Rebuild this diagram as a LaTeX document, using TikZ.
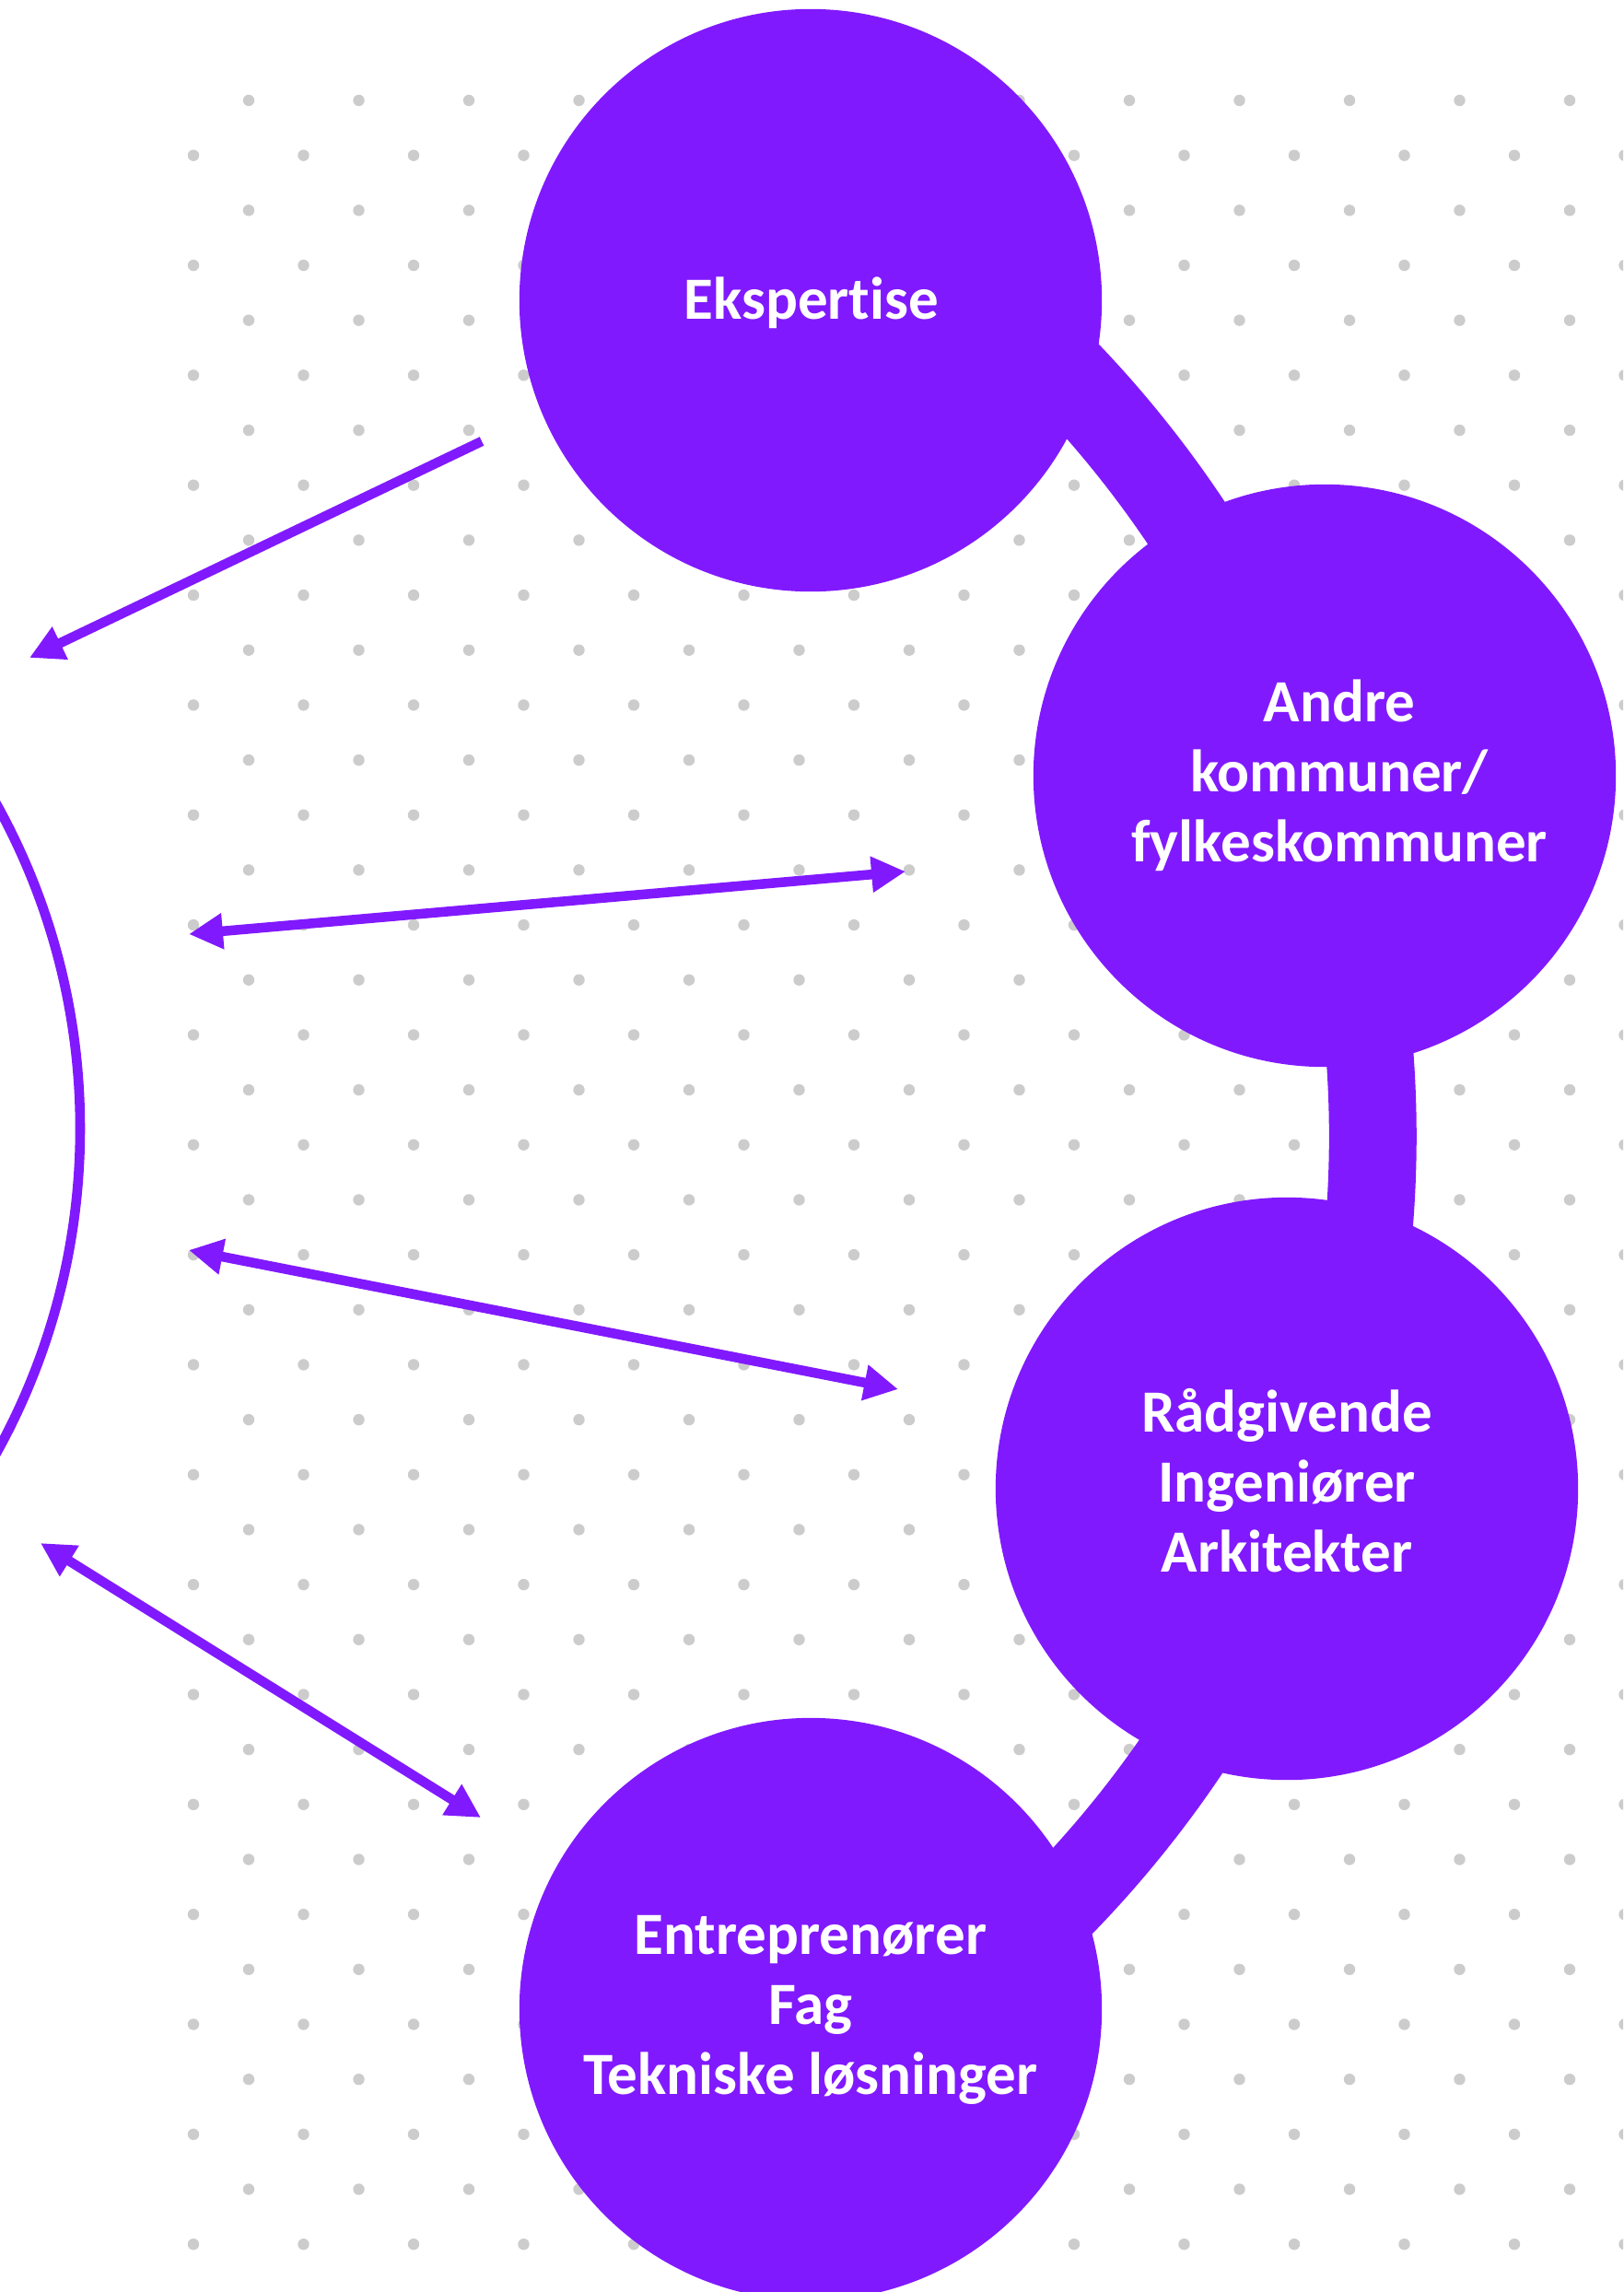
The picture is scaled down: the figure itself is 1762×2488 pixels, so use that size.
\documentclass[tikz,border=0pt]{standalone}
\usepackage{fontspec}
\setmainfont{Carlito}[Ligatures=NoCommon]
\usetikzlibrary{arrows.meta}
\definecolor{purp}{HTML}{8119FF}
\definecolor{dotc}{HTML}{CCCCCC}
\tikzset{
  bubble/.style={circle, fill=purp, minimum size=6.32cm, inner sep=0pt},
  bubbletext/.style={text=white, align=center, inner sep=0pt,
    font=\fontsize{18.5}{21.6}\selectfont\bfseries},
  conn/.style={draw=purp, line width=3pt},
  onehead/.style={conn, -{Triangle[length=10.5pt,width=10.5pt]}},
  twohead/.style={conn, {Triangle[length=10.5pt,width=10.5pt]}-{Triangle[length=10.5pt,width=10.5pt]}},
}
\begin{document}
\begin{tikzpicture}[x=0.01cm, y=-0.01cm]
\useasboundingbox (0,0) rectangle (1762,2488);
\clip (0,0) rectangle (1762,2488);
\fill[white] (0,0) rectangle (1762,2488);
% dot grid
\foreach \i in {0,...,39}{
  \pgfmathsetmacro\yy{109+59.67*\i}
  \pgfmathsetmacro\xs{ifthenelse(mod(\i,2)==0,270,210)}
  \foreach \k in {0,...,13}{
    \fill[dotc] ({\xs+119.5*\k},\yy) circle[radius=0.062cm];
  }
}
% ring band
\draw[purp, line width=27pt] (295,1233) ++(-66:1195) arc[start angle=-66, end angle=66, radius=1195];
% bubbles
\node[bubble] (E) at (880,326) {};
\node[bubble] (A) at (1438,842) {};
\node[bubble] (R) at (1397,1616) {};
\node[bubble] (T) at (880,2181) {};
\node[bubbletext] (Et) at (881,329) {Ekspertise};
\node[bubbletext] (At) at (1454,842) {Andre\\kommuner/\\fylkeskommuner};
\node[bubbletext] (Rt) at (1397,1607) {Rådgivende\\Ingeniører\\Arkitekter};
\node[bubbletext] (Tt) at (880,2182) {Entreprenører\\Fag\\Tekniske løsninger};
% left arc
\draw[purp, line width=3pt] (-640,1225) circle[radius=727];
% arrows
\coordinate (a1s) at (523,479);
\coordinate (a1e) at (32,714);
\coordinate (a2l) at (205,1014);
\coordinate (a2r) at (983,946);
\coordinate (a3l) at (205,1357);
\coordinate (a3r) at (975,1508);
\coordinate (a4l) at (44,1675);
\coordinate (a4r) at (522,1973);
\draw[onehead] (a1s) -- (a1e);
\draw[twohead] (a2l) -- (a2r);
\draw[twohead] (a3l) -- (a3r);
\draw[twohead] (a4l) -- (a4r);
\end{tikzpicture}
\end{document}
